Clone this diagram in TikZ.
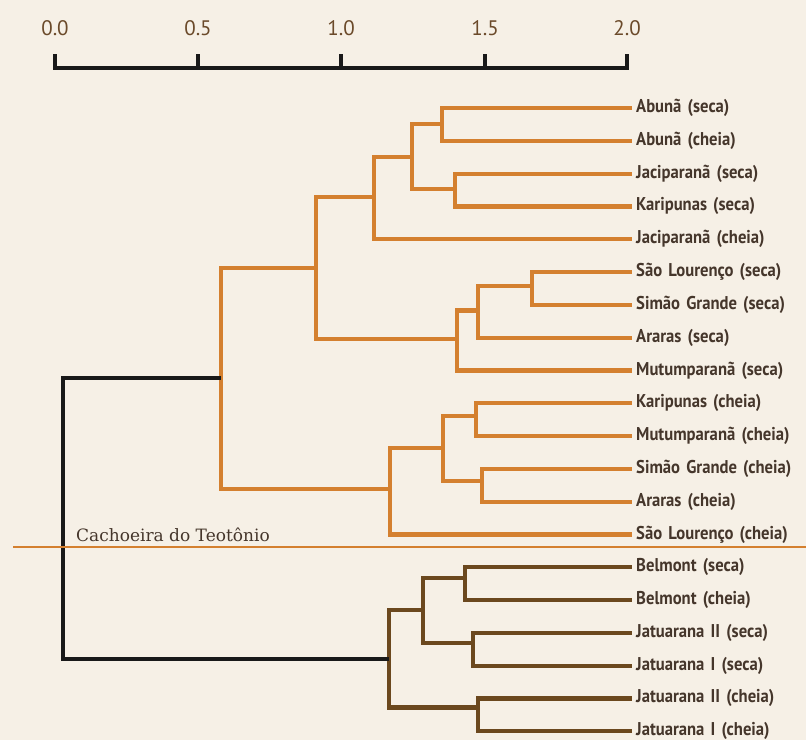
\documentclass[tikz,border=0pt]{standalone}
\usepackage{fontspec}
\setmainfont{PT Sans}
\newfontfamily\leaffont[FakeStretch=0.9]{PT Sans}
\newfontfamily\cutfont{DejaVu Serif}
\usepackage{xcolor}
\usepackage{tikz}
\usetikzlibrary{positioning}

\definecolor{paper}{HTML}{F6F0E6}
\definecolor{rioalto}{HTML}{D4802F}
\definecolor{riobaixo}{HTML}{6B481E}
\definecolor{rotulo}{HTML}{45362B}
\definecolor{escala}{HTML}{6B4A2A}

\begin{document}
\begin{tikzpicture}[
    x=1pt, y=-1pt,
    node distance=0pt,
    leaf/.style={
        inner xsep=4pt,
        inner ysep=0pt,
        text width=220pt,
        align=left,
        minimum height=32.4pt,
        font=\leaffont\fontsize{18.5}{18.5}\selectfont\bfseries,
        text=rotulo
    },
    upper/.style={
        draw=rioalto,
        line width=4.2pt
    },
    lower/.style={
        draw=riobaixo,
        line width=4.2pt
    },
    root/.style={
        draw=black!90,
        line width=4.2pt
    },
    scalebar/.style={
        draw=black!90,
        line width=4pt
    },
    tick/.style={
        font=\fontsize{21}{21}\selectfont,
        text=escala
    },
    cut/.style={
        draw=rioalto,
        line width=1.8pt
    }
]

\useasboundingbox (0,0) rectangle (806,740);
\fill[paper] (0,0) rectangle (806,740);

\node[tick] (n0) at (55,28) {0.0};
\node[tick] (n1) at (198,28) {0.5};
\node[tick] (n2) at (341,28) {1.0};
\node[tick] (n3) at (485,28) {1.5};
\node[tick] (n4) at (627,28) {2.0};

\coordinate (s0) at (55,68);
\coordinate (s1) at (198,68);
\coordinate (s2) at (341,68);
\coordinate (s3) at (485,68);
\coordinate (s4) at (627,68);

\draw[scalebar] ([yshift=14pt]s0) -- (s0) -- (s4) -- ([yshift=14pt]s4);
\draw[scalebar] (s1) -- ([yshift=14pt]s1);
\draw[scalebar] (s2) -- ([yshift=14pt]s2);
\draw[scalebar] (s3) -- ([yshift=14pt]s3);

\node[leaf, anchor=west] (l1) at (632,108) {Abunã (seca)};
\node[leaf, below=of l1] (l2) {Abunã (cheia)};
\node[leaf, below=of l2] (l3) {Jaciparanã (seca)};
\node[leaf, below=of l3] (l4) {Karipunas (seca)};
\node[leaf, below=of l4] (l5) {Jaciparanã (cheia)};
\node[leaf, below=of l5] (l6) {São Lourenço (seca)};
\node[leaf, below=of l6] (l7) {Simão Grande (seca)};
\node[leaf, below=of l7] (l8) {Araras (seca)};
\node[leaf, below=of l8] (l9) {Mutumparanã (seca)};
\node[leaf, below=of l9] (l10) {Karipunas (cheia)};
\node[leaf, below=of l10] (l11) {Mutumparanã (cheia)};
\node[leaf, below=of l11] (l12) {Simão Grande (cheia)};
\node[leaf, below=of l12] (l13) {Araras (cheia)};
\node[leaf, below=of l13] (l14) {São Lourenço (cheia)};
\node[leaf, below=of l14] (l15) {Belmont (seca)};
\node[leaf, below=of l15] (l16) {Belmont (cheia)};
\node[leaf, below=of l16] (l17) {Jatuarana II (seca)};
\node[leaf, below=of l17] (l18) {Jatuarana I (seca)};
\node[leaf, below=of l18] (l19) {Jatuarana II (cheia)};
\node[leaf, below=of l19] (l20) {Jatuarana I (cheia)};

\coordinate (abu) at (442,124.2);
\coordinate (jks) at (455,189);
\coordinate (abjk) at (412,156.6);
\coordinate (alto) at (374,197.1);
\coordinate (slsg) at (532,286.2);
\coordinate (slsga) at (478,310.5);
\coordinate (secas) at (457,338.85);
\coordinate (montante) at (316,267.98);
\coordinate (kmc) at (476,415.8);
\coordinate (sgac) at (482,480.6);
\coordinate (cheias4) at (443,448.2);
\coordinate (cheias) at (390,488.7);
\coordinate (acima) at (221,378.34);
\coordinate (bel) at (465,577.8);
\coordinate (jatus) at (473,642.6);
\coordinate (beljs) at (423,610.2);
\coordinate (jatuc) at (478,707.4);
\coordinate (abaixo) at (389,658.8);
\coordinate (raiz) at (63,520);

\draw[upper] (abu) |- (l1.west);
\draw[upper] (abu) |- (l2.west);
\draw[upper] (jks) |- (l3.west);
\draw[upper] (jks) |- (l4.west);
\draw[upper] (abjk) |- (abu);
\draw[upper] (abjk) |- (jks);
\draw[upper] (alto) |- (abjk);
\draw[upper] (alto) |- (l5.west);

\draw[upper] (slsg) |- (l6.west);
\draw[upper] (slsg) |- (l7.west);
\draw[upper] (slsga) |- (slsg);
\draw[upper] (slsga) |- (l8.west);
\draw[upper] (secas) |- (slsga);
\draw[upper] (secas) |- (l9.west);
\draw[upper] (montante) |- (alto);
\draw[upper] (montante) |- (secas);

\draw[upper] (kmc) |- (l10.west);
\draw[upper] (kmc) |- (l11.west);
\draw[upper] (sgac) |- (l12.west);
\draw[upper] (sgac) |- (l13.west);
\draw[upper] (cheias4) |- (kmc);
\draw[upper] (cheias4) |- (sgac);
\draw[upper] (cheias) |- (cheias4);
\draw[upper] (cheias) |- (l14.west);
\draw[upper] (acima) |- (montante);
\draw[upper] (acima) |- (cheias);

\draw[lower] (bel) |- (l15.west);
\draw[lower] (bel) |- (l16.west);
\draw[lower] (jatus) |- (l17.west);
\draw[lower] (jatus) |- (l18.west);
\draw[lower] (beljs) |- (bel);
\draw[lower] (beljs) |- (jatus);
\draw[lower] (jatuc) |- (l19.west);
\draw[lower] (jatuc) |- (l20.west);
\draw[lower] (abaixo) |- (beljs);
\draw[lower] (abaixo) |- (jatuc);

\draw[root] (raiz) |- (acima);
\draw[root] (raiz) |- (abaixo);

\coordinate (cutL) at (13,547);
\coordinate (cutR) at (806,547);
\draw[cut] (cutL) -- (cutR);
\node[anchor=base west, inner sep=0pt, text=rotulo,
      font=\cutfont\fontsize{17}{17}\selectfont] (teotonio) at (76,541)
{Cachoeira do Teotônio};

\end{tikzpicture}
\end{document}
